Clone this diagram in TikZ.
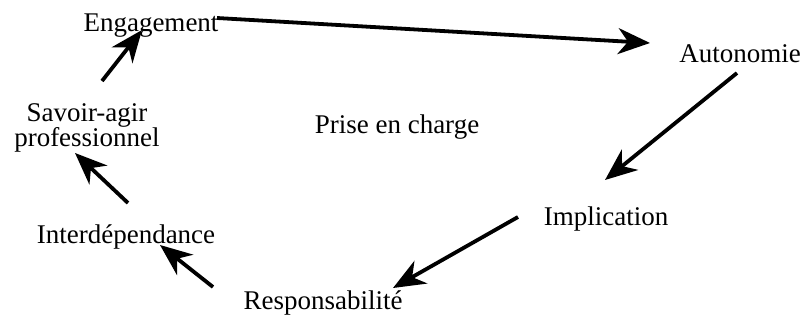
\documentclass[tikz,border=0pt]{standalone}
\usepackage{fontspec}
\setmainfont{Liberation Serif}
\usetikzlibrary{arrows.meta,calc}

\tikzset{every picture/.style={line width=0.75pt}}
\tikzset{
  word/.style={inner sep=0pt,anchor=base,font=\fontsize{27}{25}\selectfont},
  flow/.style={line width=3.8pt,-{Stealth[length=32pt,width=26pt,inset=10pt]}}
}

\begin{document}
\begin{tikzpicture}[x=1pt,y=1pt,yscale=-1,xscale=1]
\useasboundingbox (0,0) rectangle (804,324);

% Text Node
\node[word] (eng) at (151,31) {Engagement};
% Text Node
\node[word] (auto) at (740,62) {Autonomie};
% Text Node
\node[word] (impl) at (606,225) {Implication};
% Text Node
\node[word] (resp) at (323,309) {Responsabilité};
% Text Node
\node[word] (inter) at (126,243) {Interdépendance};
% Text Node
\node[word,anchor=center,align=center] (savoir) at (87,128) {Savoir-agir\\professionnel};
% Text Node
\node[word] (prise) at (397,133) {Prise en charge};

%Straight Lines
\draw[flow] ($(eng.base)+(66,-13)$) -- ($(auto.base)+(-90,-19)$);
\draw[flow] ($(auto.base)+(-3,11)$) -- ($(impl.base)+(-1,-45)$);
\draw[flow] ($(impl.base)+(-88,-8)$) -- ($(resp.base)+(70,-21)$);
\draw[flow] ($(resp.base)+(-110,-22)$) -- ($(inter.base)+(34,2)$);
\draw[flow] ($(inter.base)+(2,-40)$) -- ($(savoir.center)+(-12,25)$);
\draw[flow] ($(savoir.center)+(15,-47)$) -- ($(eng.base)+(-9,-1)$);

\end{tikzpicture}
\end{document}
